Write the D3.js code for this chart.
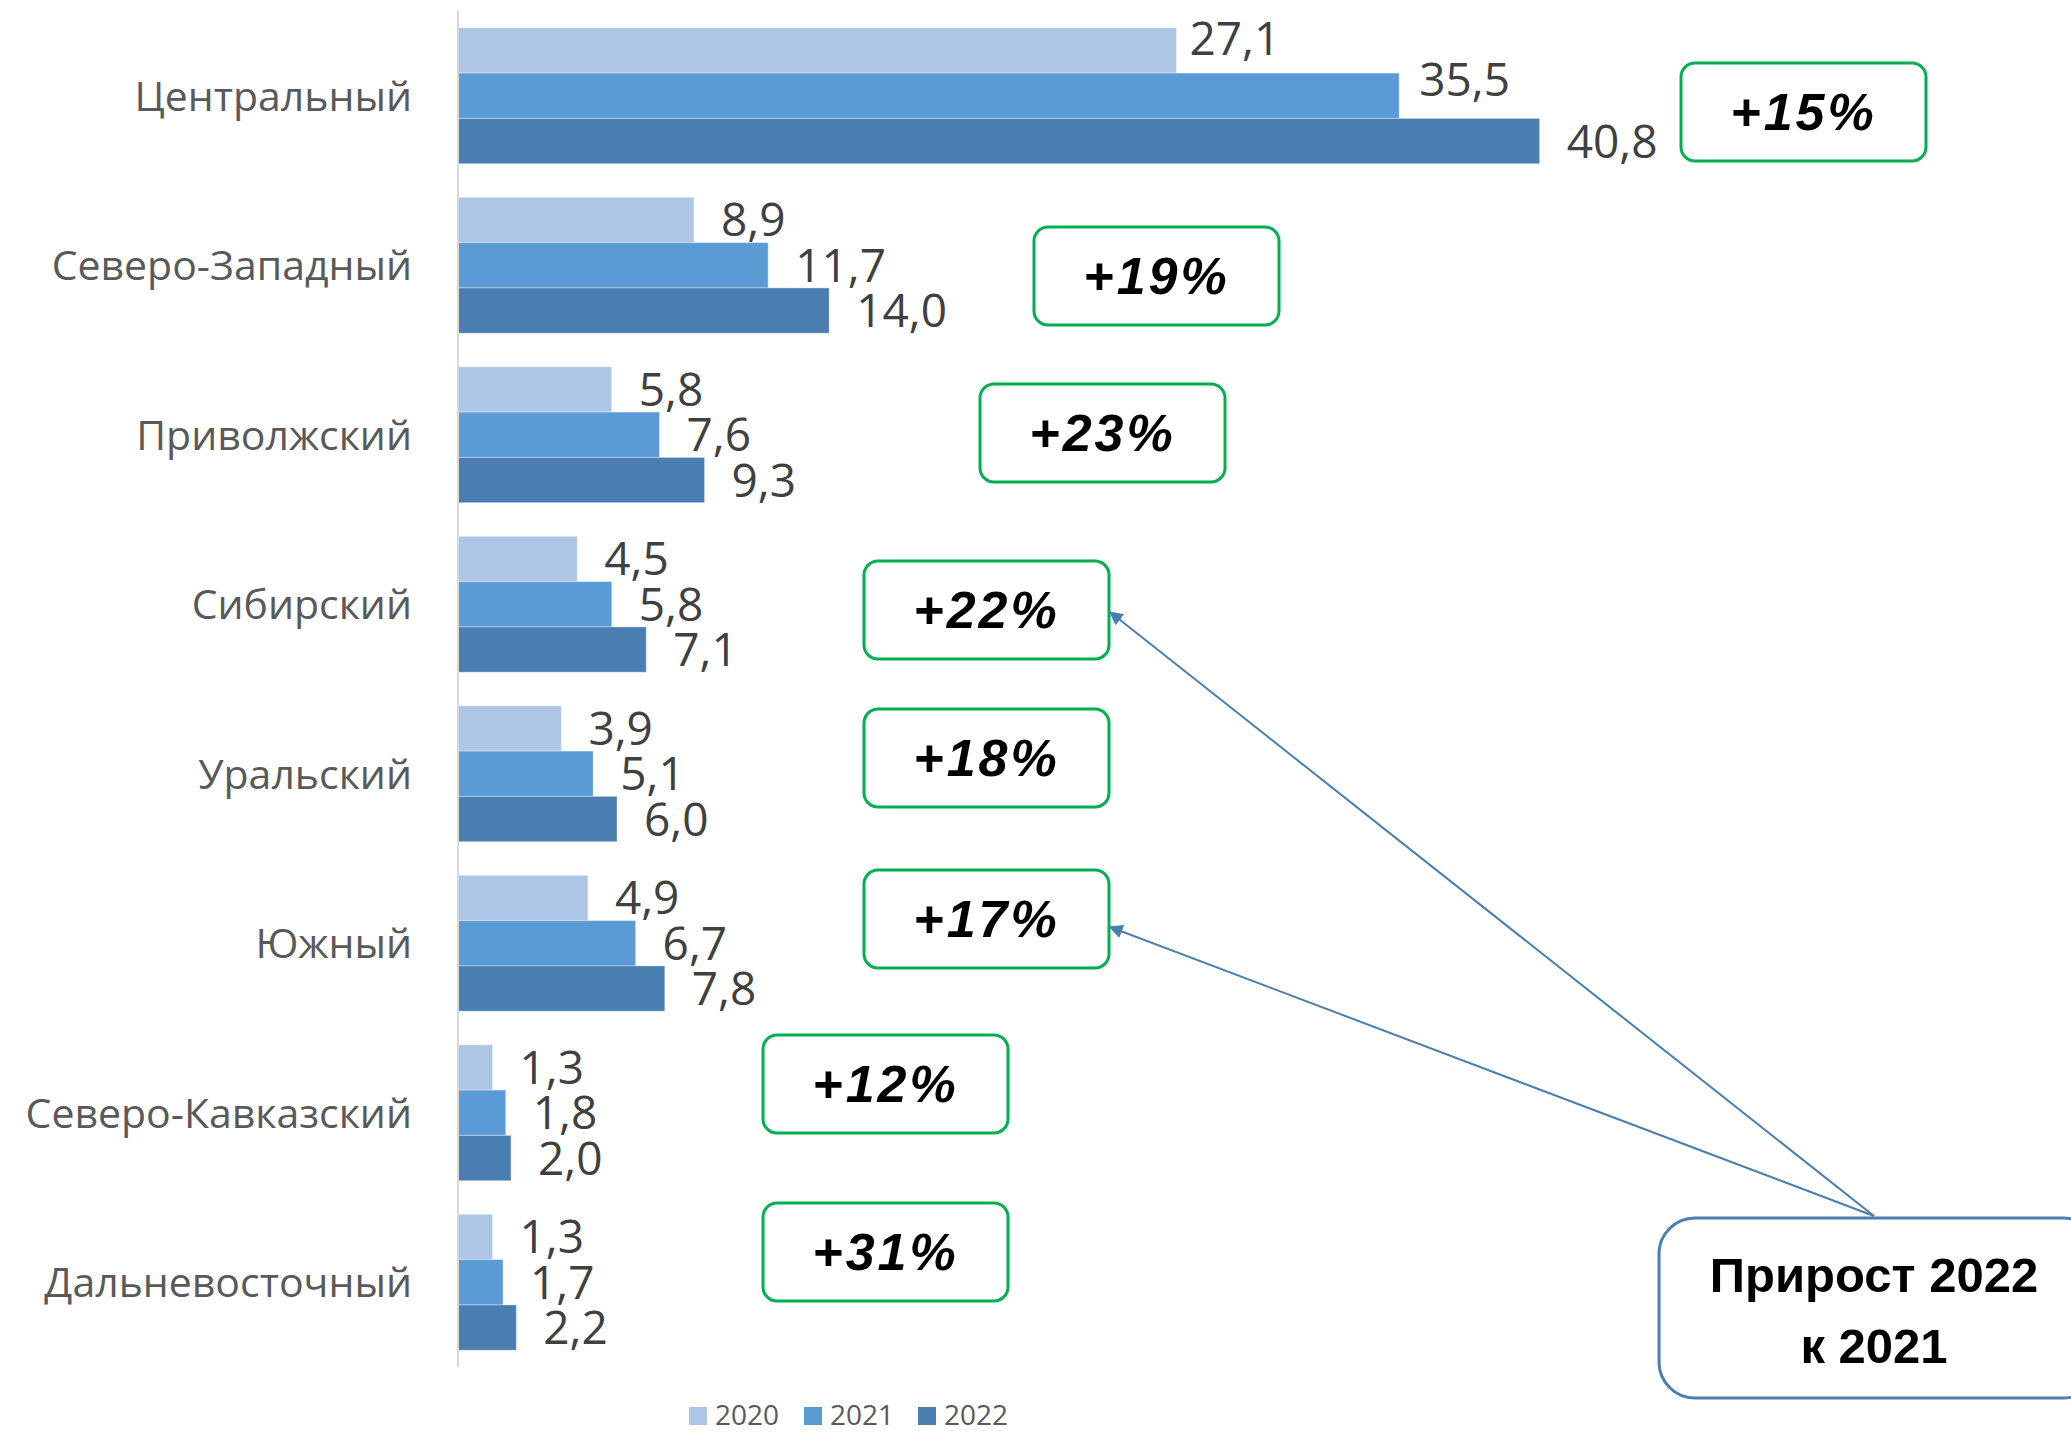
<!DOCTYPE html>
<html>
<head>
<meta charset="utf-8">
<script src="https://cdn.jsdelivr.net/npm/d3@7"></script>
<style>
  html, body { margin: 0; padding: 0; background: #ffffff; }
  svg { display: block; }
</style>
</head>
<body>
<svg id="chart" width="2071" height="1436"></svg>
<script>
// ---- data ----
const regions = ["Центральный", "Северо-Западный", "Приволжский", "Сибирский",
                 "Уральский", "Южный", "Северо-Кавказский", "Дальневосточный"];
const years = ["2020", "2021", "2022"];
const values2020 = [27.1, 8.9, 5.8, 4.5, 3.9, 4.9, 1.3, 1.3];
const values2021 = [35.5, 11.7, 7.6, 5.8, 5.1, 6.7, 1.8, 1.7];
const values2022 = [40.8, 14.0, 9.3, 7.1, 6.0, 7.8, 2.0, 2.2];
const growth = ["+15%", "+19%", "+23%", "+22%", "+18%", "+17%", "+12%", "+31%"];
const calloutLines = ["Прирост 2022", "к 2021"];

// ---- layout (not data) ----
const colors = ["#AEC6E5", "#5B9BD5", "#4A7EB0"];
const badgeBoxes = [ // x, y of each growth badge (annotation placement)
  [1681, 63], [1034, 227], [980, 384], [864, 561],
  [864, 709], [864, 870], [763, 1035], [763, 1203]
];
const badgeW = 245, badgeH = 98;

const svg = d3.select("#chart");
const series = [values2020, values2021, values2022];

const y = d3.scaleBand().domain(regions).range([11, 1367])
  .paddingInner(0.198).paddingOuter(0.099);
const ySub = d3.scaleBand().domain(years).range([0, y.bandwidth()]);
const x = d3.scaleLinear().domain([0, 45]).range([458, 1651]);
const fmt = v => d3.format(".1f")(v).replace(".", ",");

// bars
years.forEach((yr, si) => {
  svg.append("g").selectAll("rect").data(regions).join("rect")
    .attr("x", x(0))
    .attr("y", d => y(d) + ySub(yr))
    .attr("width", (d, i) => x(series[si][i]) - x(0))
    .attr("height", ySub.bandwidth())
    .attr("fill", colors[si])
    .attr("stroke", "#ffffff").attr("stroke-opacity", 0.35).attr("stroke-width", 1);
});

// value labels
const labelNudge = {"Центральный": [[-14, -12], [-7, -16], [0, 0]]};
const noNudge = [[0, 0], [0, 0], [0, 0]];
years.forEach((yr, si) => {
  svg.append("g").selectAll("text").data(regions).join("text")
    .attr("x", (d, i) => x(series[si][i]) + 27 + (labelNudge[d] || noNudge)[si][0])
    .attr("y", d => y(d) + ySub(yr) + ySub.bandwidth() / 2 + 16.5 + (labelNudge[d] || noNudge)[si][1])
    .attr("font-family", "'Open Sans', sans-serif")
    .attr("font-size", 46)
    .attr("fill", "#404040")
    .text((d, i) => fmt(series[si][i]));
});

// axis
const yAxis = d3.axisLeft(y).tickSize(0).tickPadding(46);
const gAxis = svg.append("g").attr("transform", `translate(${x(0)},0)`).call(yAxis);
gAxis.select(".domain").attr("stroke", "#D9D9D9").attr("stroke-width", 2)
  .attr("d", `M0,11V1367`);
gAxis.selectAll("text")
  .attr("font-family", "'Open Sans', sans-serif")
  .attr("font-size", 41)
  .attr("fill", "#595959")
  .attr("dy", "0.36em");

// growth badges
const badges = svg.append("g").selectAll("g").data(growth).join("g")
  .attr("transform", (d, i) => `translate(${badgeBoxes[i][0]},${badgeBoxes[i][1]})`);
badges.append("rect")
  .attr("width", badgeW).attr("height", badgeH).attr("rx", 14)
  .attr("fill", "#ffffff").attr("stroke", "#00B050").attr("stroke-width", 3);
badges.append("text")
  .attr("x", badgeW / 2).attr("y", badgeH / 2 + 18)
  .attr("text-anchor", "middle")
  .attr("font-family", "'Liberation Sans', Arial, sans-serif")
  .attr("font-weight", "bold").attr("font-style", "italic")
  .attr("font-size", 52).attr("letter-spacing", 3)
  .attr("fill", "#000000")
  .text(d => d);

// arrows
const defs = svg.append("defs");
defs.append("marker").attr("id", "ah")
  .attr("viewBox", "0 0 10 10").attr("refX", 9).attr("refY", 5)
  .attr("markerWidth", 7).attr("markerHeight", 7).attr("orient", "auto")
  .append("path").attr("d", "M0,0L10,5L0,10z").attr("fill", "#4A7EB0");
const arrowStart = [1874, 1216];
[[1110, 612], [1110, 927]].forEach(t => {
  svg.append("line")
    .attr("x1", arrowStart[0]).attr("y1", arrowStart[1])
    .attr("x2", t[0]).attr("y2", t[1])
    .attr("stroke", "#4A7EB0").attr("stroke-width", 2)
    .attr("marker-end", "url(#ah)");
});

// callout box
svg.append("rect")
  .attr("x", 1659).attr("y", 1218).attr("width", 440).attr("height", 180).attr("rx", 36)
  .attr("fill", "#ffffff").attr("stroke", "#4A7EB0").attr("stroke-width", 3);
svg.append("g").selectAll("text").data(calloutLines).join("text")
  .attr("x", 1874).attr("y", (d, i) => 1292 + i * 71)
  .attr("text-anchor", "middle")
  .attr("font-family", "'Liberation Sans', Arial, sans-serif")
  .attr("font-weight", "bold").attr("font-size", 49)
  .attr("fill", "#000000")
  .text(d => d);

// legend
const legendX = [689, 804, 918];
const lg = svg.append("g").selectAll("g").data(years).join("g")
  .attr("transform", (d, i) => `translate(${legendX[i]},1407)`);
lg.append("rect").attr("width", 18).attr("height", 18).attr("fill", (d, i) => colors[i]);
lg.append("text").attr("x", 26).attr("y", 18)
  .attr("font-family", "'Open Sans', sans-serif").attr("font-size", 28)
  .attr("fill", "#595959").text(d => d);
</script>
</body>
</html>
